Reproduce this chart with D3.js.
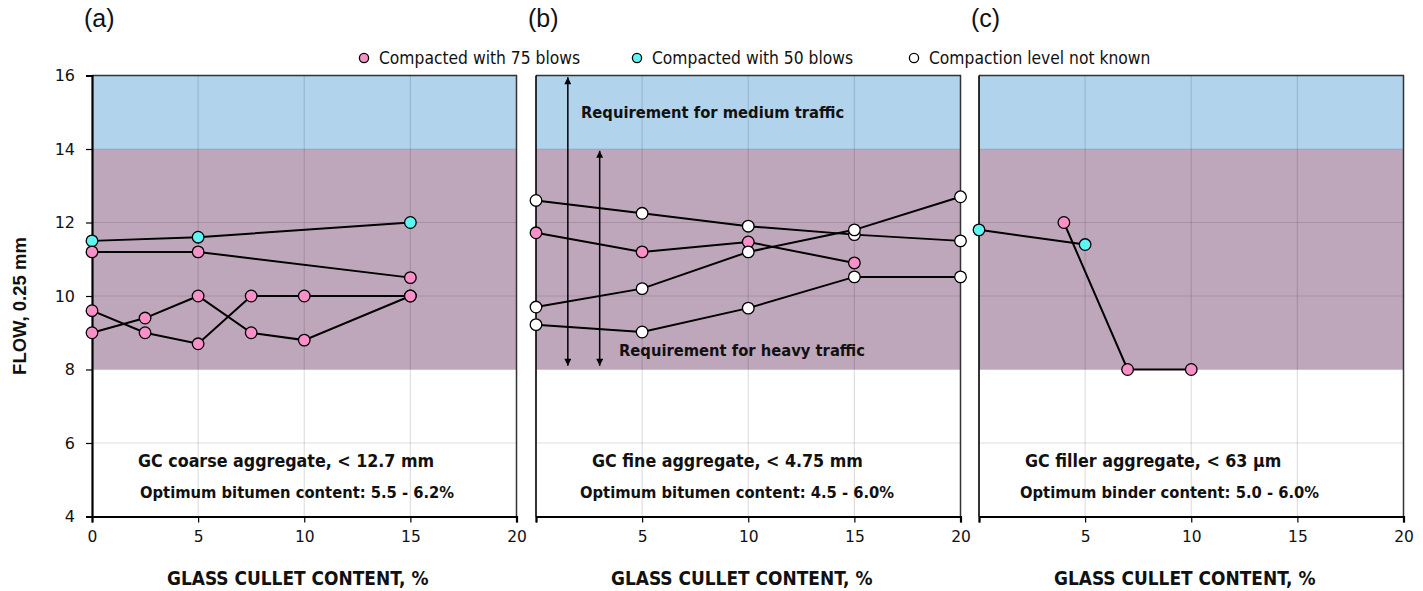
<!DOCTYPE html>
<html>
<head>
<meta charset="utf-8">
<script src="https://cdn.jsdelivr.net/npm/d3@7"></script>
<style>
  html, body { margin: 0; padding: 0; background: #fff; }
  svg { display: block; }
  .sans { font-family: "DejaVu Sans", Verdana, sans-serif; }
  .cond { font-family: "DejaVu Sans Condensed", "DejaVu Sans", sans-serif; font-stretch: condensed; }
</style>
</head>
<body>
<svg id="chart" width="1423" height="591"></svg>
<script>
// ---- shared axes ----
const xTicks = [0, 5, 10, 15, 20];
const yTicks = [4, 6, 8, 10, 12, 14, 16];
const yGrid = [6, 10, 12];
const xGrid = [5, 10, 15];
// requirement bands (flow, 0.25 mm)
const heavyBand = [8, 14];
const mediumBand = [14, 16];

// ---- panel (a): GC coarse aggregate ----
const aCyanX = [0, 5, 15];
const aCyanY = [11.5, 11.6, 12.0];
const aPink1X = [0, 5, 15];
const aPink1Y = [11.2, 11.2, 10.5];
const aPink2X = [0, 2.5, 5, 7.5, 10, 15];
const aPink2Y = [9.0, 9.4, 10.0, 9.0, 8.8, 10.0];
const aPink3X = [0, 2.5, 5, 7.5, 10, 15];
const aPink3Y = [9.6, 9.0, 8.7, 10.0, 10.0, 10.0];

// ---- panel (b): GC fine aggregate ----
const bWhite1X = [0, 5, 10, 15, 20];
const bWhite1Y = [12.6, 12.25, 11.9, 11.67, 11.5];
const bPinkX = [0, 5, 10, 15];
const bPinkY = [11.72, 11.2, 11.47, 10.9];
const bWhite2X = [0, 5, 10, 15, 20];
const bWhite2Y = [9.7, 10.2, 11.2, 11.8, 12.7];
const bWhite3X = [0, 5, 10, 15, 20];
const bWhite3Y = [9.22, 9.02, 9.67, 10.52, 10.52];

// ---- panel (c): GC filler aggregate ----
const cCyanX = [0, 5];
const cCyanY = [11.8, 11.4];
const cPinkX = [4, 7, 10];
const cPinkY = [12.0, 8.0, 8.0];

// arrows in panel (b): x position, from, to
const arrowX = [1.5, 3.0];
const arrowFrom = [8.1, 8.1];
const arrowTo = [15.95, 13.95];

const legendLabels = ["Compacted with 75 blows", "Compacted with 50 blows", "Compaction level not known"];
const panelLetters = ["(a)", "(b)", "(c)"];
const panelTitles = ["GC coarse aggregate, < 12.7 mm", "GC fine aggregate, < 4.75 mm", "GC filler aggregate, < 63 µm"];
const panelNotes = ["Optimum bitumen content: 5.5 - 6.2%", "Optimum bitumen content: 4.5 - 6.0%", "Optimum binder content: 5.0 - 6.0%"];
const xTitle = "GLASS CULLET CONTENT, %";
const yTitle = "FLOW, 0.25 mm";

const colors = { pink: "#f990c8", cyan: "#5ff5f3", white: "#ffffff" };

function pairs(xs, ys) { return xs.map((x, i) => [x, ys[i]]); }

const panels = [
  { series: [
      { pts: pairs(aCyanX, aCyanY), c: colors.cyan },
      { pts: pairs(aPink1X, aPink1Y), c: colors.pink },
      { pts: pairs(aPink2X, aPink2Y), c: colors.pink },
      { pts: pairs(aPink3X, aPink3Y), c: colors.pink } ],
    showZero: true, yAxis: true, titleX: 138, noteX: 140 },
  { series: [
      { pts: pairs(bWhite1X, bWhite1Y), c: colors.white },
      { pts: pairs(bPinkX, bPinkY), c: colors.pink },
      { pts: pairs(bWhite2X, bWhite2Y), c: colors.white },
      { pts: pairs(bWhite3X, bWhite3Y), c: colors.white } ],
    showZero: false, yAxis: false, arrows: true, titleX: 592, noteX: 580 },
  { series: [
      { pts: pairs(cCyanX, cCyanY), c: colors.cyan },
      { pts: pairs(cPinkX, cPinkY), c: colors.pink } ],
    showZero: false, yAxis: false, titleX: 1025, noteX: 1020 }
];

const svg = d3.select("#chart");
const panelLeft = [92, 536, 979];
const panelW = 424.5;
const plotTop = 75.5, plotBottom = 516.5;
const y = d3.scaleLinear().domain([4, 16]).range([plotBottom, plotTop]);

const defs = svg.append("defs");
defs.append("marker").attr("id", "ah").attr("viewBox", "0 0 10 10")
  .attr("refX", 10).attr("refY", 5).attr("markerWidth", 11).attr("markerHeight", 7)
  .attr("markerUnits", "userSpaceOnUse").attr("orient", "auto-start-reverse")
  .append("path").attr("d", "M0,0 L10,5 L0,10 Z").attr("fill", "#000");

panels.forEach((p, i) => {
  const x = d3.scaleLinear().domain([0, 20]).range([panelLeft[i], panelLeft[i] + panelW]);
  const g = svg.append("g");

  // requirement bands
  g.append("rect").attr("x", x(0)).attr("width", x(20) - x(0))
    .attr("y", y(mediumBand[1])).attr("height", y(mediumBand[0]) - y(mediumBand[1]))
    .attr("fill", "#b1d3eb");
  g.append("rect").attr("x", x(0)).attr("width", x(20) - x(0))
    .attr("y", y(heavyBand[1])).attr("height", y(heavyBand[0]) - y(heavyBand[1]))
    .attr("fill", "#bfa7bb");

  // grid
  g.selectAll(".vg").data(xGrid).join("line")
    .attr("x1", d => x(d)).attr("x2", d => x(d)).attr("y1", plotTop).attr("y2", plotBottom)
    .attr("stroke", "rgba(0,0,0,0.13)").attr("stroke-width", 1.2);
  g.selectAll(".hg").data(yGrid).join("line")
    .attr("x1", x(0)).attr("x2", x(20)).attr("y1", d => y(d)).attr("y2", d => y(d))
    .attr("stroke", "rgba(0,0,0,0.13)").attr("stroke-width", 1.2);
  g.append("line").attr("x1", x(0)).attr("x2", x(20)).attr("y1", y(14)).attr("y2", y(14))
    .attr("stroke", "rgba(0,0,0,0.10)").attr("stroke-width", 1);
  g.append("line").attr("x1", x(0)).attr("x2", x(20)).attr("y1", y(8)).attr("y2", y(8))
    .attr("stroke", "rgba(0,0,0,0.08)").attr("stroke-width", 1);

  // frame: top and right
  g.append("path").attr("d", `M${x(0)},${plotTop}H${x(20)}V${plotBottom}`)
    .attr("fill", "none").attr("stroke", "#333").attr("stroke-width", 1.5);

  // x axis
  const xa = g.append("g").attr("transform", `translate(0,${plotBottom})`)
    .call(d3.axisBottom(x).tickValues(xTicks).tickSize(6).tickPadding(8)
      .tickFormat(d => (d === 0 && !p.showZero) ? "" : d));
  xa.select(".domain").attr("stroke", "#000").attr("stroke-width", 2.2);
  xa.selectAll(".tick line").attr("stroke", "#000").attr("stroke-width", 1.2);
  xa.selectAll("text").attr("class", "sans").attr("font-size", 15.5).attr("fill", "#111");

  // y axis
  if (p.yAxis) {
    const ya = g.append("g").attr("transform", `translate(${x(0)},0)`)
      .call(d3.axisLeft(y).tickValues(yTicks).tickSize(6).tickPadding(11));
    ya.select(".domain").attr("stroke", "#000").attr("stroke-width", 2.2);
    ya.selectAll(".tick line").attr("stroke", "#000").attr("stroke-width", 1.2);
    ya.selectAll("text").attr("class", "sans").attr("font-size", 16).attr("fill", "#111");
  } else {
    g.append("line").attr("x1", x(0)).attr("x2", x(0)).attr("y1", plotTop).attr("y2", plotBottom)
      .attr("stroke", "#000").attr("stroke-width", 1.6);
  }

  // requirement arrows
  if (p.arrows) {
    arrowX.forEach((ax, k) => {
      g.append("line").attr("x1", x(ax)).attr("x2", x(ax))
        .attr("y1", y(arrowFrom[k])).attr("y2", y(arrowTo[k]))
        .attr("stroke", "#000").attr("stroke-width", 1.5)
        .attr("marker-start", "url(#ah)").attr("marker-end", "url(#ah)");
    });
    g.append("text").attr("class", "cond").attr("x", 581).attr("y", 118)
      .attr("font-size", 16.4).attr("font-weight", "bold").attr("fill", "#111")
      .text("Requirement for medium traffic");
    g.append("text").attr("class", "cond").attr("x", 619).attr("y", 356)
      .attr("font-size", 16.4).attr("font-weight", "bold").attr("fill", "#111")
      .text("Requirement for heavy traffic");
  }

  // series lines and markers
  const line = d3.line().x(d => x(d[0])).y(d => y(d[1]));
  p.series.forEach(s => {
    g.append("path").datum(s.pts).attr("d", line)
      .attr("fill", "none").attr("stroke", "#000").attr("stroke-width", 2);
  });
  p.series.forEach(s => {
    g.selectAll(null).data(s.pts).join("circle")
      .attr("cx", d => x(d[0])).attr("cy", d => y(d[1])).attr("r", 5.8)
      .attr("fill", s.c).attr("stroke", "#000").attr("stroke-width", 1.3);
  });

  // panel annotations
  g.append("text").attr("class", "cond").attr("x", p.titleX).attr("y", 467)
    .attr("font-size", 17.7).attr("font-weight", "bold").attr("fill", "#111")
    .text(panelTitles[i]);
  g.append("text").attr("class", "cond").attr("x", p.noteX).attr("y", 498)
    .attr("font-size", 16.4).attr("font-weight", "bold").attr("fill", "#111")
    .text(panelNotes[i]);

  // x axis title
  g.append("text").attr("class", "cond").attr("x", x(10) - 6.5).attr("y", 585)
    .attr("text-anchor", "middle").attr("font-size", 18.9).attr("font-weight", "bold").attr("fill", "#111")
    .text(xTitle);

  // panel letter
  g.append("text").attr("x", x(0) - 8).attr("y", 27)
    .attr("font-family", "Liberation Sans, Arial, sans-serif").attr("font-size", 25).attr("fill", "#111")
    .text(panelLetters[i]);
});

// y axis title
svg.append("text").attr("transform", "translate(26,306) rotate(-90)")
  .attr("text-anchor", "middle").attr("font-family", "Liberation Sans, Arial, sans-serif")
  .attr("font-size", 18.5).attr("font-weight", "bold").attr("fill", "#111").text(yTitle);

// legend
const legendX = [364, 637, 914];
const legendColors = [colors.pink, colors.cyan, colors.white];
legendLabels.forEach((lab, k) => {
  svg.append("circle").attr("cx", legendX[k]).attr("cy", 58).attr("r", 4.6)
    .attr("fill", legendColors[k]).attr("stroke", "#000").attr("stroke-width", 1.3);
  svg.append("text").attr("class", "cond").attr("x", legendX[k] + 15).attr("y", 64)
    .attr("font-size", 17.3).attr("fill", "#111").text(lab);
});
</script>
</body>
</html>
